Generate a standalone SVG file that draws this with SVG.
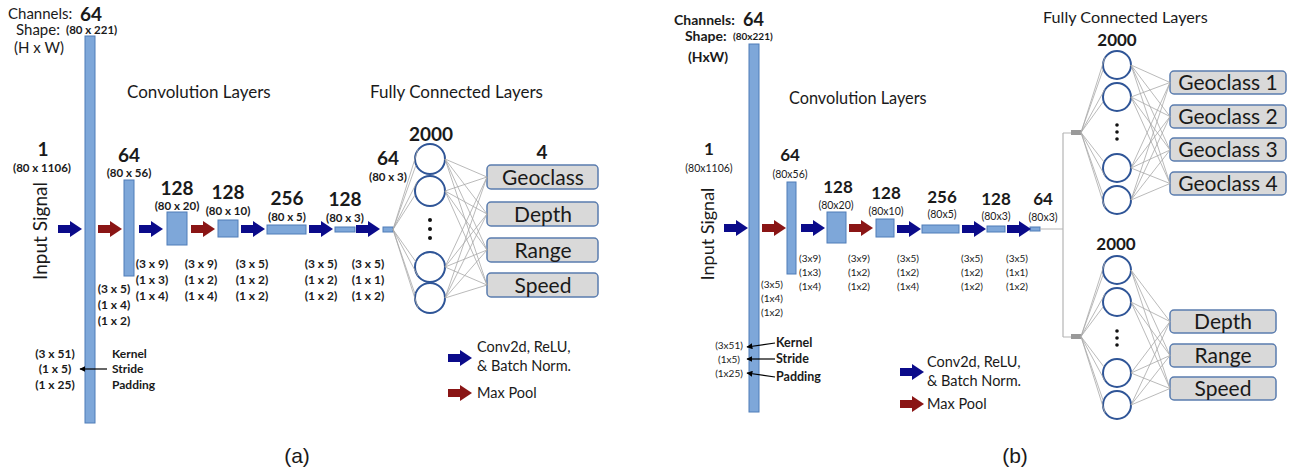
<svg xmlns="http://www.w3.org/2000/svg" xmlns:xlink="http://www.w3.org/1999/xlink" width="1289" height="470" viewBox="0 0 1289 470">
<style>
text{font-family:Lato,"Open Sans","Liberation Sans",sans-serif;fill:#1a1a1a}
.b{font-weight:bold}
.m{text-anchor:middle}
.num{font-size:19px;font-weight:bold;text-anchor:middle}
.numb{font-size:17px;font-weight:bold;text-anchor:middle}
.shp{font-size:11.5px;font-weight:bold;text-anchor:middle}
.shpb{font-size:10.5px;text-anchor:middle}
.prm{font-size:12px;font-weight:bold;text-anchor:middle}
.prmb{font-size:10px;text-anchor:middle}
.ttl{font-size:17px}
.bar{fill:#7ea7d9;stroke:#4f7db8;stroke-width:1}
.blue{fill:#0b0b8a}
.red{fill:#8a1515}
.neu{fill:#fff;stroke:#2f5597;stroke-width:2}
.out{fill:#d9d9d9;stroke:#5a7cae;stroke-width:1.5}
.outt{font-size:21px;text-anchor:middle}
.fc{stroke:#a8a8a8;stroke-width:0.8;fill:none}
.lg{font-size:14.5px}
.cap{font-family:"Liberation Sans",Arial,sans-serif;font-size:21px;text-anchor:middle}
.ann{stroke:#000;stroke-width:1.2;fill:none}
</style>
<defs>
<path id="arr" d="M0,-4 H12 V-8 L24,0 L12,8 V4 H0 Z"/>
<marker id="ah" viewBox="0 0 10 10" refX="9" refY="5" markerWidth="6" markerHeight="6" orient="auto-start-reverse" markerUnits="userSpaceOnUse"><path d="M0,0 L10,5 L0,10 Z" fill="#000"/></marker>
</defs>
<rect width="1289" height="470" fill="#fff"/>

<!-- ================= PANEL (a) ================= -->
<g id="a-header">
<text x="8" y="19" font-size="15">Channels:</text>
<text x="80" y="21" font-size="19" class="b">64</text>
<text x="16" y="35" font-size="15">Shape:</text>
<text x="66" y="34" font-size="11.5" class="b">(80 x 221)</text>
<text x="14" y="53" font-size="15">(H x W)</text>
<text x="127" y="98" class="ttl">Convolution Layers</text>
<text x="370" y="98" class="ttl">Fully Connected Layers</text>
</g>
<g id="a-input">
<text class="num" x="43" y="156">1</text>
<text class="shp" x="42" y="172">(80 x 1106)</text>
<text x="0" y="0" font-size="19" class="m" transform="translate(47,231) rotate(-90)">Input Signal</text>
</g>
<g id="a-conv1">
<rect class="bar" x="85" y="36" width="10" height="387"/>
</g>
<g id="a-conv2">
<rect class="bar" x="124" y="180" width="10" height="96"/>
<text class="num" x="129" y="162">64</text>
<text class="shp" x="129" y="177">(80 x 56)</text>
</g>
<g id="a-conv3">
<rect class="bar" x="167" y="212" width="20" height="33"/>
<text class="num" x="177" y="195">128</text>
<text class="shp" x="177" y="210">(80 x 20)</text>
</g>
<g id="a-conv4">
<rect class="bar" x="218" y="220" width="20" height="17"/>
<text class="num" x="228" y="199">128</text>
<text class="shp" x="228" y="215">(80 x 10)</text>
</g>
<g id="a-conv5">
<rect class="bar" x="267" y="225" width="39" height="9"/>
<text class="num" x="287" y="205">256</text>
<text class="shp" x="287" y="221">(80 x 5)</text>
</g>
<g id="a-conv6">
<rect class="bar" x="335" y="227" width="20" height="5"/>
<text class="num" x="345" y="206">128</text>
<text class="shp" x="345" y="222">(80 x 3)</text>
</g>
<g id="a-conv7">
<rect class="bar" x="383" y="227" width="10" height="5"/>
<text class="num" x="388" y="165">64</text>
<text class="shp" x="388" y="181">(80 x 3)</text>
</g>
<g id="a-params">
<text class="prm" x="114" y="293">(3 x 5)</text><text class="prm" x="114" y="309">(1 x 4)</text><text class="prm" x="114" y="325">(1 x 2)</text>
<text class="prm" x="152" y="268">(3 x 9)</text><text class="prm" x="152" y="284">(1 x 3)</text><text class="prm" x="152" y="300">(1 x 4)</text>
<text class="prm" x="201" y="268">(3 x 9)</text><text class="prm" x="201" y="284">(1 x 2)</text><text class="prm" x="201" y="300">(1 x 4)</text>
<text class="prm" x="252" y="268">(3 x 5)</text><text class="prm" x="252" y="284">(1 x 2)</text><text class="prm" x="252" y="300">(1 x 2)</text>
<text class="prm" x="321" y="268">(3 x 5)</text><text class="prm" x="321" y="284">(1 x 2)</text><text class="prm" x="321" y="300">(1 x 2)</text>
<text class="prm" x="368" y="268">(3 x 5)</text><text class="prm" x="368" y="284">(1 x 1)</text><text class="prm" x="368" y="300">(1 x 2)</text>
<text class="prm" x="55" y="358">(3 x 51)</text><text class="prm" x="55" y="373">(1 x 5)</text><text class="prm" x="55" y="389">(1 x 25)</text>
<text x="112" y="358" font-size="12" class="b">Kernel</text>
<text x="112" y="373" font-size="12" class="b">Stride</text>
<text x="112" y="389" font-size="12" class="b">Padding</text>
</g>
<g id="a-fc">
<text class="num" x="431" y="141">2000</text>
<circle class="neu" cx="430" cy="159" r="15"/>
<circle class="neu" cx="430" cy="191" r="15"/>
<circle class="neu" cx="430" cy="267" r="15"/>
<circle class="neu" cx="430" cy="298" r="15"/>
<circle cx="430" cy="220" r="2" fill="#111"/><circle cx="430" cy="229" r="2" fill="#111"/><circle cx="430" cy="238" r="2" fill="#111"/>
</g>
<g id="a-out">
<text class="num" x="542" y="159">4</text>
<rect class="out" x="487" y="165" width="111" height="24" rx="4"/><text class="outt" x="543" y="185">Geoclass</text>
<rect class="out" x="487" y="202" width="111" height="24" rx="4"/><text class="outt" x="543" y="222">Depth</text>
<rect class="out" x="487" y="238" width="111" height="24" rx="4"/><text class="outt" x="543" y="258">Range</text>
<rect class="out" x="487" y="273" width="111" height="24" rx="4"/><text class="outt" x="543" y="293">Speed</text>
</g>
<g id="a-legend">
<use xlink:href="#arr" href="#arr" class="blue" transform="translate(448,358)"/>
<text x="477" y="352" class="lg">Conv2d, ReLU,</text>
<text x="477" y="371" class="lg">&amp; Batch Norm.</text>
<use xlink:href="#arr" href="#arr" class="red" transform="translate(448,393)"/>
<text x="477" y="398" class="lg">Max Pool</text>
<text class="cap" x="297" y="463">(a)</text>
</g>

<!-- ================= PANEL (b) ================= -->
<g id="b-header">
<text x="674" y="25" font-size="14" class="b">Channels:</text>
<text x="743" y="26" font-size="18" class="b">64</text>
<text x="685" y="41" font-size="14" class="b">Shape:</text>
<text x="733" y="40" font-size="10" class="b">(80x221)</text>
<text x="688" y="62" font-size="14" class="b">(HxW)</text>
<text x="789" y="104" font-size="16.3">Convolution Layers</text>
<text x="1043" y="23" font-size="16.2">Fully Connected Layers</text>
</g>
<g id="b-input">
<text class="numb" x="709" y="155">1</text>
<text class="shpb" x="709" y="172">(80x1106)</text>
<text x="0" y="0" font-size="18" class="m" transform="translate(714,234) rotate(-90)">Input Signal</text>
</g>
<g id="b-conv1"><rect class="bar" x="749" y="44" width="10" height="368"/></g>
<g id="b-conv2">
<rect class="bar" x="787" y="182" width="9" height="92"/>
<text class="numb" x="790" y="161">64</text>
<text class="shpb" x="790" y="178">(80x56)</text>
</g>
<g id="b-conv3">
<rect class="bar" x="827" y="212" width="19" height="31"/>
<text class="numb" x="838" y="193">128</text>
<text class="shpb" x="836" y="209">(80x20)</text>
</g>
<g id="b-conv4">
<rect class="bar" x="876" y="219" width="18" height="18"/>
<text class="numb" x="886" y="199">128</text>
<text class="shpb" x="886" y="215">(80x10)</text>
</g>
<g id="b-conv5">
<rect class="bar" x="922" y="225" width="37" height="8"/>
<text class="numb" x="942" y="203">256</text>
<text class="shpb" x="942" y="218">(80x5)</text>
</g>
<g id="b-conv6">
<rect class="bar" x="987" y="226" width="18" height="6"/>
<text class="numb" x="996" y="205">128</text>
<text class="shpb" x="996" y="220">(80x3)</text>
</g>
<g id="b-conv7">
<rect class="bar" x="1030" y="227" width="10" height="4"/>
<text class="numb" x="1043" y="205">64</text>
<text class="shpb" x="1043" y="221">(80x3)</text>
</g>
<g id="b-params">
<text class="prmb" x="772" y="288">(3x5)</text><text class="prmb" x="772" y="302">(1x4)</text><text class="prmb" x="772" y="316">(1x2)</text>
<text class="prmb" x="810" y="262">(3x9)</text><text class="prmb" x="810" y="276">(1x3)</text><text class="prmb" x="810" y="290">(1x4)</text>
<text class="prmb" x="859" y="262">(3x9)</text><text class="prmb" x="859" y="276">(1x2)</text><text class="prmb" x="859" y="290">(1x2)</text>
<text class="prmb" x="908" y="262">(3x5)</text><text class="prmb" x="908" y="276">(1x2)</text><text class="prmb" x="908" y="290">(1x4)</text>
<text class="prmb" x="972" y="262">(3x5)</text><text class="prmb" x="972" y="276">(1x2)</text><text class="prmb" x="972" y="290">(1x2)</text>
<text class="prmb" x="1017" y="262">(3x5)</text><text class="prmb" x="1017" y="276">(1x1)</text><text class="prmb" x="1017" y="290">(1x2)</text>
<text class="prmb" x="729" y="349">(3x51)</text><text class="prmb" x="729" y="363">(1x5)</text><text class="prmb" x="729" y="377">(1x25)</text>
<text x="776" y="347" font-size="12.5" class="b">Kernel</text>
<text x="776" y="363" font-size="12.5" class="b">Stride</text>
<text x="776" y="381" font-size="12.5" class="b">Padding</text>
</g>
<g id="b-fc-top">
<text class="numb" x="1117" y="46">2000</text>
<rect x="1071" y="130" width="10" height="5" fill="#999"/>
<circle class="neu" cx="1117" cy="65" r="14"/>
<circle class="neu" cx="1117" cy="97" r="14"/>
<circle class="neu" cx="1117" cy="168" r="14"/>
<circle class="neu" cx="1117" cy="200" r="14"/>
<circle cx="1117" cy="125" r="1.8" fill="#111"/><circle cx="1117" cy="132" r="1.8" fill="#111"/><circle cx="1117" cy="139" r="1.8" fill="#111"/>
</g>
<g id="b-out-top">
<rect class="out" x="1170" y="71" width="116" height="23" rx="4"/><text class="outt" x="1228" y="90" font-size="20">Geoclass 1</text>
<rect class="out" x="1170" y="105" width="116" height="23" rx="4"/><text class="outt" x="1228" y="124" font-size="20">Geoclass 2</text>
<rect class="out" x="1170" y="138" width="116" height="23" rx="4"/><text class="outt" x="1228" y="157" font-size="20">Geoclass 3</text>
<rect class="out" x="1170" y="172" width="116" height="23" rx="4"/><text class="outt" x="1228" y="191" font-size="20">Geoclass 4</text>
</g>
<g id="b-fc-bottom">
<text class="numb" x="1116" y="250">2000</text>
<rect x="1071" y="334" width="10" height="5" fill="#999"/>
<circle class="neu" cx="1117" cy="270" r="14"/>
<circle class="neu" cx="1117" cy="302" r="14"/>
<circle class="neu" cx="1117" cy="373" r="14"/>
<circle class="neu" cx="1117" cy="405" r="14"/>
<circle cx="1117" cy="331" r="1.8" fill="#111"/><circle cx="1117" cy="338" r="1.8" fill="#111"/><circle cx="1117" cy="345" r="1.8" fill="#111"/>
</g>
<g id="b-out-bottom">
<rect class="out" x="1170" y="310" width="106" height="23" rx="4"/><text class="outt" x="1223" y="329" font-size="21">Depth</text>
<rect class="out" x="1170" y="344" width="106" height="23" rx="4"/><text class="outt" x="1223" y="363" font-size="21">Range</text>
<rect class="out" x="1170" y="377" width="106" height="23" rx="4"/><text class="outt" x="1223" y="396" font-size="21">Speed</text>
</g>
<g id="b-legend">
<use xlink:href="#arr" href="#arr" class="blue" transform="translate(900,372)"/>
<text x="927" y="367" class="lg">Conv2d, ReLU,</text>
<text x="927" y="386" class="lg">&amp; Batch Norm.</text>
<use xlink:href="#arr" href="#arr" class="red" transform="translate(900,404)"/>
<text x="927" y="409" class="lg">Max Pool</text>
<text class="cap" x="1015" y="463">(b)</text>
</g>

<!-- ================= CONNECTORS ================= -->
<g id="connectors">
<use xlink:href="#arr" href="#arr" class="blue" transform="translate(58,229)"/>
<use xlink:href="#arr" href="#arr" class="red" transform="translate(98,229)"/>
<use xlink:href="#arr" href="#arr" class="blue" transform="translate(139,229)"/>
<use xlink:href="#arr" href="#arr" class="red" transform="translate(191,229)"/>
<use xlink:href="#arr" href="#arr" class="blue" transform="translate(241,229)"/>
<use xlink:href="#arr" href="#arr" class="blue" transform="translate(309,229)"/>
<use xlink:href="#arr" href="#arr" class="blue" transform="translate(356,229)"/>
<line class="ann" x1="107" y1="369" x2="80" y2="369" marker-end="url(#ah)"/>
<path class="fc" d="M393,229.5 L418,149 M393,229.5 L416,165 M393,229.5 L417,182 M393,229.5 L415,195 M393,229.5 L416,262 M393,229.5 L418,276 M393,229.5 L415,294 M393,229.5 L418,308"/>
<path class="fc" d="M445,159 L487,177 M445,159 L487,214 M445,159 L487,250 M445,159 L487,285
M445,191 L487,177 M445,191 L487,214 M445,191 L487,250 M445,191 L487,285
M445,267 L487,177 M445,267 L487,214 M445,267 L487,250 M445,267 L487,285
M445,298 L487,177 M445,298 L487,214 M445,298 L487,250 M445,298 L487,285"/>
<use xlink:href="#arr" href="#arr" class="blue" transform="translate(724,228)"/>
<use xlink:href="#arr" href="#arr" class="red" transform="translate(762,228)"/>
<use xlink:href="#arr" href="#arr" class="blue" transform="translate(801,228)"/>
<use xlink:href="#arr" href="#arr" class="red" transform="translate(849,228)"/>
<use xlink:href="#arr" href="#arr" class="blue" transform="translate(897,229)"/>
<use xlink:href="#arr" href="#arr" class="blue" transform="translate(962,229)"/>
<use xlink:href="#arr" href="#arr" class="blue" transform="translate(1007,229)"/>
<line class="ann" x1="775" y1="343" x2="747" y2="347" marker-end="url(#ah)" stroke-width="1"/>
<line class="ann" x1="775" y1="359" x2="747" y2="359" marker-end="url(#ah)" stroke-width="1"/>
<line class="ann" x1="775" y1="377" x2="747" y2="373" marker-end="url(#ah)" stroke-width="1"/>
<path d="M1040,229 H1063 M1063,133 V337 M1063,133 H1071 M1063,337 H1071" stroke="#b5b5b5" stroke-width="1.2" fill="none"/>
<path class="fc" d="M1081,132.5 L1105,57 M1081,132.5 L1103,70 M1081,132.5 L1105,89 M1081,132.5 L1103,102 M1081,132.5 L1104,162 M1081,132.5 L1105,176 M1081,132.5 L1103,195 M1081,132.5 L1105,208"/>
<path class="fc" d="M1131,65 L1170,82.5 M1131,65 L1170,116.5 M1131,65 L1170,150 M1131,65 L1170,183.5
M1131,97 L1170,82.5 M1131,97 L1170,116.5 M1131,97 L1170,150 M1131,97 L1170,183.5
M1131,168 L1170,82.5 M1131,168 L1170,116.5 M1131,168 L1170,150 M1131,168 L1170,183.5
M1131,200 L1170,82.5 M1131,200 L1170,116.5 M1131,200 L1170,150 M1131,200 L1170,183.5"/>
<path class="fc" d="M1081,336.5 L1105,262 M1081,336.5 L1103,275 M1081,336.5 L1105,294 M1081,336.5 L1103,307 M1081,336.5 L1104,367 M1081,336.5 L1105,381 M1081,336.5 L1103,400 M1081,336.5 L1105,413"/>
<path class="fc" d="M1131,270 L1170,321.5 M1131,270 L1170,355.5 M1131,270 L1170,388.5
M1131,302 L1170,321.5 M1131,302 L1170,355.5 M1131,302 L1170,388.5
M1131,373 L1170,321.5 M1131,373 L1170,355.5 M1131,373 L1170,388.5
M1131,405 L1170,321.5 M1131,405 L1170,355.5 M1131,405 L1170,388.5"/>
</g>
</svg>
